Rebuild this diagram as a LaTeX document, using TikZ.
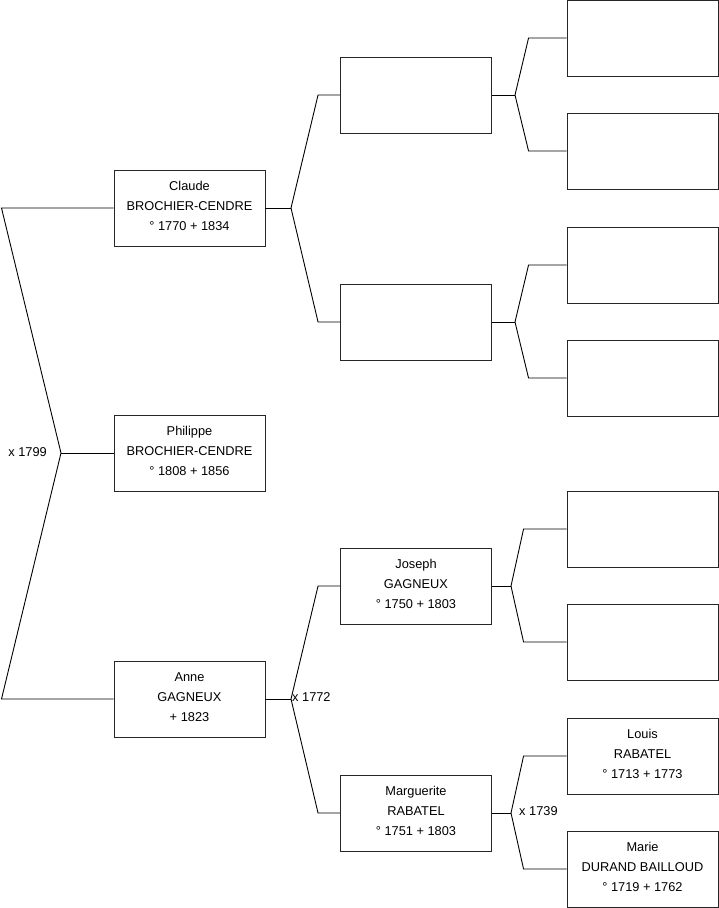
\documentclass[tikz,border=0pt]{standalone}
\usepackage{fontspec}
\setmainfont{Liberation Sans}
\usepackage{tikz}

\begin{document}
\begin{tikzpicture}[x=1pt, y=-1pt]
    \tikzset{P/.style={rectangle, draw=black!85, line width=0.9pt, fill=white,
                       minimum width=151pt, minimum height=76pt, inner sep=0pt,
                       text depth=4pt,
                       align=center, font=\fontsize{12.8}{20}\selectfont},
             L/.style={draw=black, line width=0.9pt},
             M/.style={font=\fontsize{12.8}{14}\selectfont, inner sep=1pt}}
    \useasboundingbox (0,0) rectangle (719,908);
    % generation 1
    \node[P] (claude)   at (189.5,208) {Claude\\BROCHIER-CENDRE\\° 1770 + 1834};
    \node[P] (philippe) at (189.5,453) {Philippe\\BROCHIER-CENDRE\\° 1808 + 1856};
    \node[P] (anne)     at (189.5,699) {Anne\\GAGNEUX\\+ 1823};
    % generation 2
    \node[P] (pa) at (416,95)  {};
    \node[P] (pb) at (416,322) {};
    \node[P] (joseph)     at (416,586) {Joseph\\GAGNEUX\\° 1750 + 1803};
    \node[P] (marguerite) at (416,813) {Marguerite\\RABATEL\\° 1751 + 1803};
    % generation 3
    \node[P] (qa) at (642.5,38)  {};
    \node[P] (qb) at (642.5,151) {};
    \node[P] (qc) at (642.5,265) {};
    \node[P] (qd) at (642.5,378) {};
    \node[P] (qe) at (642.5,529) {};
    \node[P] (qf) at (642.5,642) {};
    \node[P] (louis) at (642.5,756) {Louis\\RABATEL\\° 1713 + 1773};
    \node[P] (marie) at (642.5,869) {Marie\\DURAND BAILLOUD\\° 1719 + 1762};

    % root fork
    \coordinate (rt) at (61,453);
    \coordinate (rta) at (1.5,208);
    \coordinate (rtb) at (1.5,699);
    \draw[L] (claude.west) -- (rta) -- (rt) -- (rtb) -- (anne.west);
    \draw[L] (rt) -- (philippe.west);
    \node[M, anchor=east] (m1) at (rt) [xshift=-13pt, yshift=1pt] {x 1799};

    % parents forks
    \coordinate (fc) at (291,208);
    \draw[L] (claude.east) -- (fc);
    \draw[L] (fc) -- ([xshift=-22pt]pa.west) -- (pa.west);
    \draw[L] (fc) -- ([xshift=-22pt]pb.west) -- (pb.west);
    \coordinate (fa) at (291,699);
    \draw[L] (anne.east) -- (fa);
    \draw[L] (fa) -- ([xshift=-22pt]joseph.west) -- (joseph.west);
    \draw[L] (fa) -- ([xshift=-22pt]marguerite.west) -- (marguerite.west);
    \node[M, anchor=west] (m2) at (fa) [yshift=2pt] {x 1772};

    % grandparents forks
    \coordinate (fpa) at (515,95);
    \draw[L] (pa.east) -- (fpa);
    \draw[L] (fpa) -- ([xshift=-38pt]qa.west) -- (qa.west);
    \draw[L] (fpa) -- ([xshift=-38pt]qb.west) -- (qb.west);
    \coordinate (fpb) at (515,322);
    \draw[L] (pb.east) -- (fpb);
    \draw[L] (fpb) -- ([xshift=-38pt]qc.west) -- (qc.west);
    \draw[L] (fpb) -- ([xshift=-38pt]qd.west) -- (qd.west);
    \coordinate (fj) at (511,586);
    \draw[L] (joseph.east) -- (fj);
    \draw[L] (fj) -- ([xshift=-43pt]qe.west) -- (qe.west);
    \draw[L] (fj) -- ([xshift=-43pt]qf.west) -- (qf.west);
    \coordinate (fm) at (511,813);
    \draw[L] (marguerite.east) -- (fm);
    \draw[L] (fm) -- ([xshift=-43pt]louis.west) -- (louis.west);
    \draw[L] (fm) -- ([xshift=-43pt]marie.west) -- (marie.west);
    \node[M, anchor=west] (m3) at (fm) [xshift=7pt, yshift=1.5pt] {x 1739};
  \end{tikzpicture}
\end{document}
